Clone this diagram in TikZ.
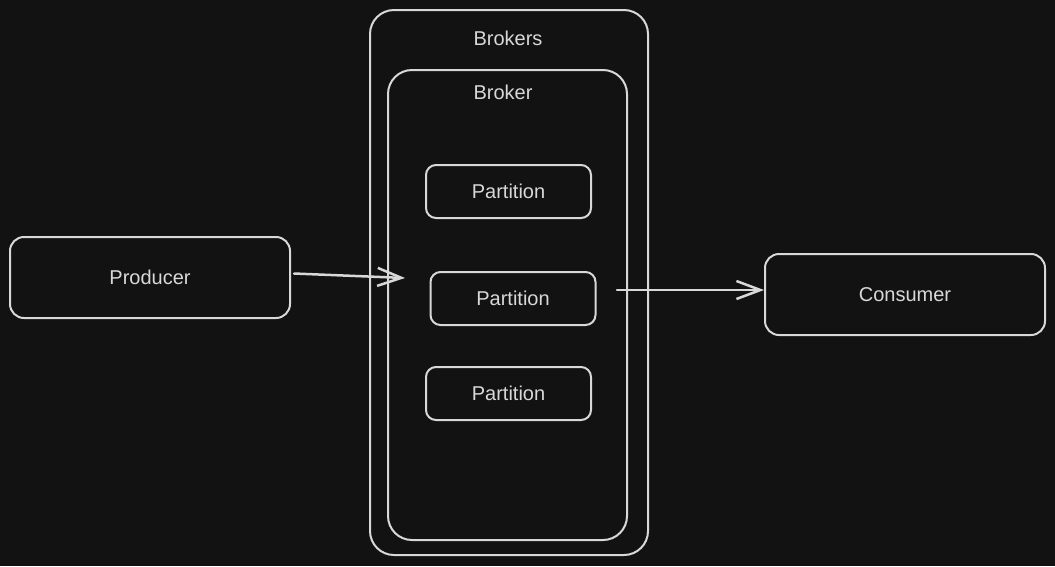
\documentclass[tikz,border=0pt]{standalone}
\usepackage{fontspec}
\setmainfont{Liberation Sans}
\usetikzlibrary{arrows.meta}
\definecolor{bg}{HTML}{121212}
\definecolor{ink}{HTML}{D8D8D8}

\begin{document}
\begin{tikzpicture}[x=1pt,y=-1pt,>={Straight Barb[length=24pt,width=18pt]},
  line width=2pt,
  box node/.style={draw=ink,rounded corners=14pt,inner sep=0pt,text=ink,font=\fontsize{20}{24}\selectfont},
  part node/.style={box node,rounded corners=10pt,minimum width=165,minimum height=53},
  group node/.style={draw=ink,rounded corners=24pt,inner sep=0pt},
  title node/.style={text=ink,inner sep=0pt,font=\fontsize{20}{24}\selectfont}]

  \fill[bg] (0,0) rectangle (1055,566);

  \node[group node,minimum width=278,minimum height=545] (brokers) at (509,282.5) {};
  \node[group node,minimum width=239,minimum height=470] (broker) at (507.5,305) {};
  \node[title node] (brokers title) at (508,38) {Brokers};
  \node[title node] (broker title) at (503,92) {Broker};

  \node[part node] (part1) at (508.5,191.5) {Partition};
  \node[part node] (part2) at (513,298.5) {Partition};
  \node[part node] (part3) at (508.5,393.5) {Partition};

  \node[box node,minimum width=280,minimum height=81] (producer) at (150,277.5) {Producer};
  \node[box node,minimum width=280,minimum height=81] (consumer) at (905,294.5) {Consumer};

  \coordinate (enter) at (405,278);
  \coordinate (leave) at (617,290);

  \path[->,color=ink,line width=2.5pt,line cap=round]
    ([xshift=3pt,yshift=4pt]producer.east) edge (enter)
    (leave) edge (consumer.west |- leave);
\end{tikzpicture}
\end{document}
